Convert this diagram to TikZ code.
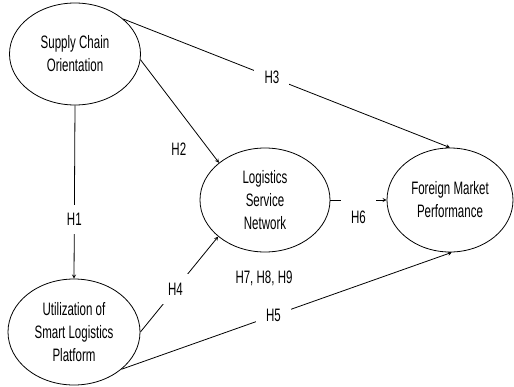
\documentclass[tikz,border=0pt]{standalone}
\usepackage{fontspec}
\newfontfamily\figfont{Liberation Sans}[FakeStretch=0.64]
\newcommand{\modelfont}{\figfont\fontsize{18}{23}\selectfont}
\usetikzlibrary{shapes, arrows, positioning}

\begin{document}
\begin{tikzpicture}[x=1pt, y=-1pt, line width=0.8pt,
		construct/.style={draw, ellipse, align=center, inner sep=0pt, font=\modelfont},
		hyp/.style={fill=white, inner sep=0pt, font=\modelfont}]
	\useasboundingbox (0,0) rectangle (514,386);
	% Konstrukte
	\node[construct, minimum width=131pt, minimum height=102pt] (sco) at (75,54) {Supply Chain\\Orientation};
	\node[construct, minimum width=130pt, minimum height=104pt] (lsn) at (265,200) {Logistics\\Service\\Network};
	\node[construct, minimum width=126pt, minimum height=104pt] (fmp) at (450,200) {Foreign Market\\Performance};
	\node[construct, minimum width=132pt, minimum height=106pt] (uslp) at (74,332) {Utilization of\\Smart Logistics\\Platform};
	% Hypothesen
	\draw[-stealth] (sco.south) -- node[hyp, pos=0.66, minimum width=20pt, minimum height=29pt] {H1} (uslp.north);
	\draw[-stealth] (sco.-5) -- node[pos=0.87, xshift=-30pt, font=\modelfont] {H2} (lsn.141);
	\draw[-stealth] (sco.36) -- node[hyp, pos=0.455, minimum width=35pt, minimum height=18pt] {H3} (fmp.north);
	\draw[-stealth] (uslp.east) -- node[hyp, pos=0.45, minimum size=30pt] {H4} (lsn.218);
	\draw[-stealth] (uslp.-38) -- node[hyp, pos=0.46, minimum width=35pt, minimum height=16pt] {H5} (fmp.-88);
	\draw[-stealth] (lsn.east) -- node[hyp, midway, anchor=north, yshift=3pt, minimum width=35pt, inner ysep=14pt] {H6} (fmp.west);
	\node[font=\modelfont] (med) at (264,278) {H7, H8, H9};
\end{tikzpicture}
\end{document}
